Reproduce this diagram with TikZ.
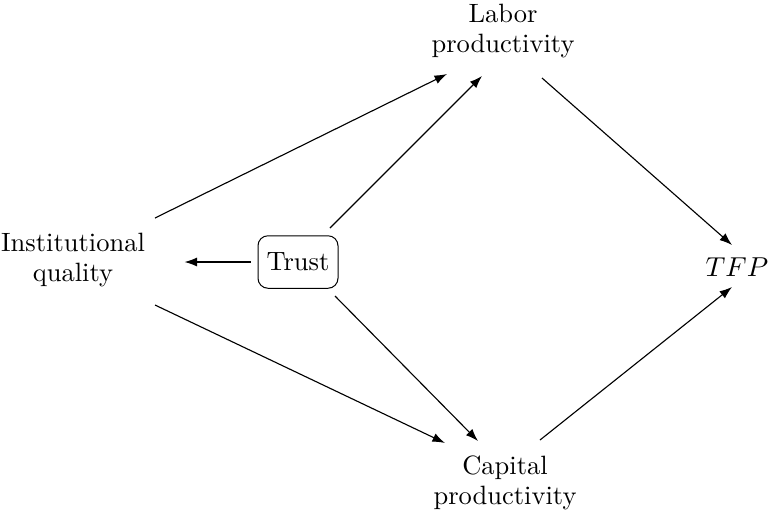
\documentclass[tikz,border=0pt]{standalone}
\usetikzlibrary{arrows.meta,calc}
\begin{document}
\begin{tikzpicture}[x=0.4pt,y=-0.4pt,
  lbl/.style={align=center,font=\fontsize{10.6}{12}\selectfont,inner sep=0pt},
  boxed/.style={draw,rounded corners=4pt,minimum width=32pt,minimum height=21pt,inner sep=2pt,font=\fontsize{10.6}{12}\selectfont},
  arr/.style={-{Latex[length=5pt,width=3.6pt]},line width=0.45pt}]
\useasboundingbox (0,0) rectangle (775,516);
\node[lbl] (labor) at (503,31) {Labor\\productivity};
\node[lbl] (inst) at (73,260) {Institutional\\quality};
\node[boxed] (trust) at (298,262) {Trust};
\node[lbl] (tfp) at (737,267) {$TFP$};
\node[lbl] (cap) at (505,483) {Capital\\productivity};
\draw[arr] ($(inst.center)+(82,-42)$) -- ($(labor.center)+(-56,43)$);
\draw[arr] ($(trust.center)+(32,-34)$) -- ($(labor.center)+(-21,45)$);
\draw[arr] ($(labor.center)+(39,47)$) -- ($(tfp.center)+(-5,-22)$);
\draw[arr] ($(trust.west)+(-7,0)$) -- ($(trust.west)+(-73,0)$);
\draw[arr] ($(inst.center)+(82,45)$) -- ($(cap.center)+(-60,-40)$);
\draw[arr] ($(trust.center)+(37,34)$) -- ($(cap.center)+(-27,-42)$);
\draw[arr] ($(cap.center)+(35,-43)$) -- ($(tfp.center)+(-5,20)$);
\end{tikzpicture}
\end{document}
